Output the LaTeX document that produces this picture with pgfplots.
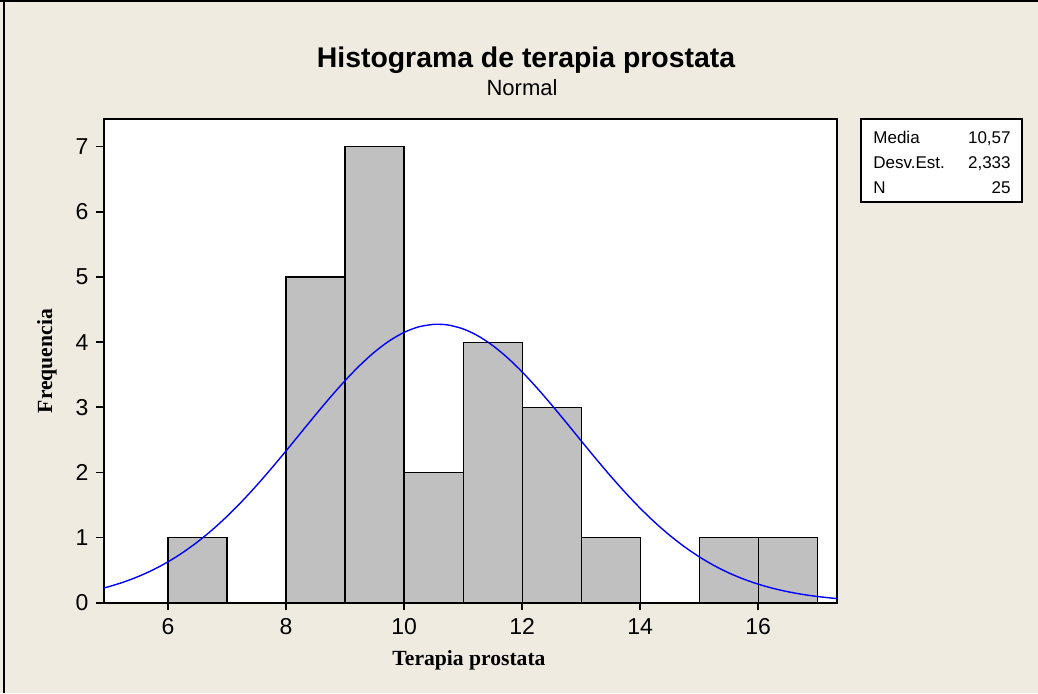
\documentclass[border=0pt]{standalone}
\usepackage{pgfplots}
\pgfplotsset{compat=1.18}
\usepackage{fontspec}
\setmainfont{Liberation Sans}
\newfontfamily\serifb{Liberation Serif}
\definecolor{bg}{HTML}{EFEBE1}
\definecolor{barfill}{HTML}{C0C0C0}
\begin{document}
\begin{tikzpicture}
\begin{scope}[x=0.5pt,y=-0.5pt]
\fill[bg] (0,0) rectangle (1038,693);
\useasboundingbox (0,0) rectangle (1038,693);
\draw[black,line width=0.8pt] (0,1) -- (1038,1);
\draw[black,line width=0.6pt] (4,0) -- (4,693);
\node[font=\bfseries\fontsize{14.2}{17}\selectfont, anchor=base] at (526,67) {Histograma de terapia prostata};
\node[font=\fontsize{11}{13}\selectfont, anchor=base] at (522,95) {Normal};
\node[font=\serifb\bfseries\fontsize{10.8}{13}\selectfont] at (469,660) {Terapia prostata};
\node[font=\serifb\bfseries\fontsize{10.8}{13}\selectfont, rotate=90] at (47,361) {Frequencia};
\fill[white] (861,119) rectangle (1022,202);
\draw[black,line width=0.6pt] (861,119) rectangle (1022,202);
\node[font=\fontsize{8.5}{10}\selectfont, anchor=base west, inner sep=0pt] at (873,143.5) {Media};
\node[font=\fontsize{8.5}{10}\selectfont, anchor=base west, inner sep=0pt] at (873,168.5) {Desv.Est.};
\node[font=\fontsize{8.5}{10}\selectfont, anchor=base west, inner sep=0pt] at (873,193.5) {N};
\node[font=\fontsize{8.5}{10}\selectfont, anchor=base east, inner sep=0pt] at (1011,143.5) {10,57};
\node[font=\fontsize{8.5}{10}\selectfont, anchor=base east, inner sep=0pt] at (1011,168.5) {2,333};
\node[font=\fontsize{8.5}{10}\selectfont, anchor=base east, inner sep=0pt] at (1011,193.5) {25};
\end{scope}
\begin{axis}[
  at={(52pt,-301.35pt)}, anchor=south west,
  scale only axis, width=366.65pt, height=241.7pt,
  xmin=4.916, xmax=17.34, ymin=0, ymax=7.42,
  xtick={6,8,10,12,14,16}, ytick={0,1,2,3,4,5,6,7},
  xtick pos=bottom, ytick pos=left,
  tick align=outside, major tick length=3.8pt,
  tick style={black, line width=0.8pt},
  axis line style={black, line width=1pt},
  axis background/.style={fill=white},
  ticklabel style={font=\fontsize{11.5}{13}\selectfont},
  /pgf/number format/assume math mode=true,
  yticklabel style={xshift=-0.5pt},
  xticklabel style={yshift=-0.5pt},
  clip=true,
]
\addplot[ybar interval, fill=barfill, draw=black, line width=0.6pt] coordinates {
(6,1) (7,0) (8,5) (9,7) (10,2) (11,4) (12,3) (13,1) (14,0) (15,1) (16,1) (17,0)};
\addplot[blue, line width=0.7pt, smooth] coordinates {
(4.8,0.2008) (5.0,0.2473) (5.25,0.3175) (5.5,0.4033) (5.75,0.5062) (6.0,0.6277)
(6.25,0.7698) (6.5,0.9337) (6.75,1.1187) (7.0,1.3257) (7.25,1.5531) (7.5,1.7985)
(7.75,2.0593) (8.0,2.3303) (8.25,2.6073) (8.5,2.8839) (8.75,3.1532) (9.0,3.4089)
(9.25,3.6427) (9.5,3.8484) (9.75,4.0189) (10.0,4.1493) (10.25,4.2350) (10.5,4.2731)
(10.57,4.275) (10.75,4.2623) (11.0,4.2030) (11.25,4.0972) (11.5,3.9485) (11.75,3.7617)
(12.0,3.5429) (12.25,3.2987) (12.5,3.0363) (12.75,2.7628) (13.0,2.4852) (13.25,2.2100)
(13.5,1.9429) (13.75,1.6885) (14.0,1.4506) (14.25,1.2321) (14.5,1.0346) (14.75,0.8588)
(15.0,0.7047) (15.25,0.5717) (15.5,0.4584) (15.75,0.3635) (16.0,0.2849) (16.25,0.2207)
(16.5,0.1690) (16.75,0.1280) (17.0,0.0958) (17.25,0.0709) (17.35,0.0627)};
\end{axis}
\end{tikzpicture}
\end{document}
